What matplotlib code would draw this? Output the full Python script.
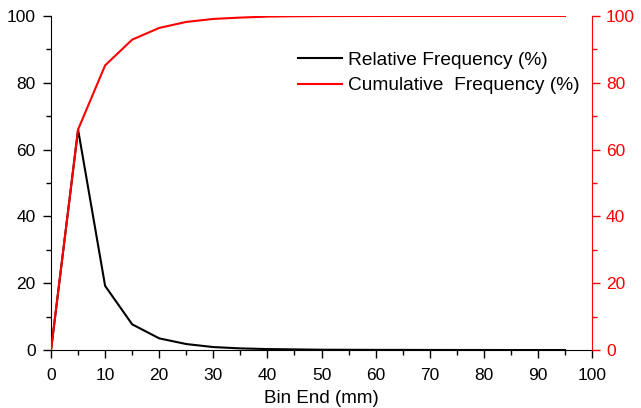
import numpy as np
import matplotlib.pyplot as plt
from matplotlib.ticker import MultipleLocator

plt.rcParams['font.family'] = ['Liberation Sans', 'DejaVu Sans']

# bin ends (mm) and frequencies (%)
bin_end = [0, 5, 10, 15, 20, 25, 30, 35, 40, 45, 50, 55, 60, 65, 70, 75, 80, 85, 90, 95]
rel_freq = [0, 66, 19.2, 7.7, 3.5, 1.8, 0.9, 0.5, 0.3, 0.2, 0.1, 0.08, 0.05, 0.05, 0.03, 0.02, 0.02, 0.01, 0.01, 0.01]
cum_freq = [0, 66, 85.2, 92.9, 96.4, 98.2, 99.1, 99.5, 99.8, 99.9, 99.95, 99.97, 99.98, 99.99, 99.99, 100, 100, 100, 100, 100]

fig = plt.figure(figsize=(6.41, 4.08), dpi=100)
ax = fig.add_axes([0.0796, 0.142, 0.844, 0.819])
ax2 = ax.twinx()

l1, = ax.plot(bin_end, rel_freq, color='black', lw=1.5, label='Relative Frequency (%)')
l2, = ax2.plot(bin_end, cum_freq, color='red', lw=1.5, label='Cumulative  Frequency (%)')

for a in (ax, ax2):
    a.set_xlim(0, 100)
    a.set_ylim(0, 100)
    a.spines['top'].set_visible(False)
    a.yaxis.set_major_locator(MultipleLocator(20))
    a.yaxis.set_minor_locator(MultipleLocator(10))

ax.xaxis.set_major_locator(MultipleLocator(10))
ax.xaxis.set_minor_locator(MultipleLocator(5))
ax.tick_params(which='major', direction='out', length=6, width=1, labelsize=12.5, pad=5)
ax.tick_params(axis='x', which='major', pad=7)
ax.tick_params(which='minor', direction='out', length=3.5, width=1)
ax.spines['right'].set_visible(False)

ax2.spines['left'].set_visible(False)
ax2.spines['bottom'].set_visible(False)
ax2.spines['right'].set_color('red')
ax2.tick_params(axis='y', which='major', direction='out', length=6, width=1,
                colors='red', labelsize=12.5, pad=4)
ax2.tick_params(axis='y', which='minor', direction='out', length=3.5, width=1, colors='red')

ax.set_xlabel('Bin End (mm)', fontsize=13.5, labelpad=5)

ax.legend(handles=[l1, l2], loc='upper right', bbox_to_anchor=(1.009, 0.945),
          frameon=False, fontsize=13.8, handlelength=2.3, handletextpad=0.3,
          labelspacing=0.42)

fig.savefig('out.png', dpi=100)
